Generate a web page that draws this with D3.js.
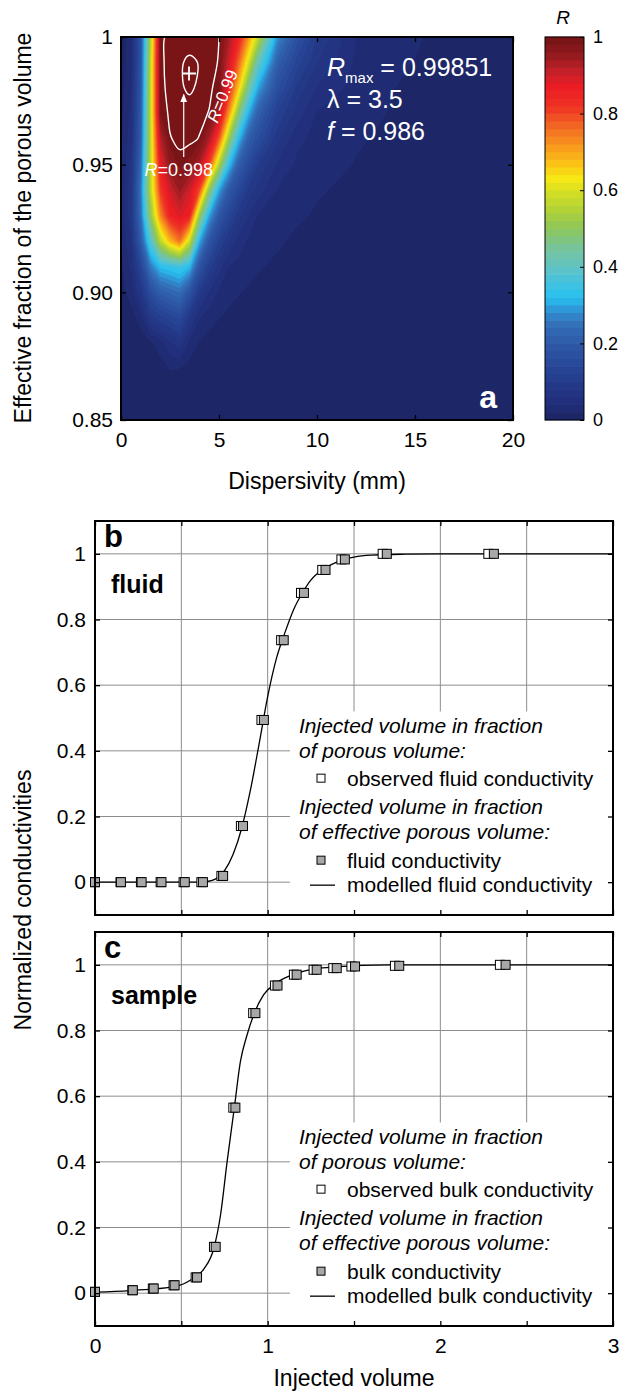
<!DOCTYPE html>
<html>
<head>
<meta charset="utf-8">
<script src="https://d3js.org/d3.v7.min.js"></script>
<style>
  body { margin: 0; background: #fff; }
  text { font-family: "Liberation Sans", Arial, sans-serif; }
</style>
</head>
<body>
<svg id="fig" width="621" height="1394"></svg>
<script>
// ---------- panel a : goodness of fit R on a dispersivity x fraction grid ----------
var dispersivity = [0, 0.5, 1, 1.5, 2, 2.5, 3, 3.5, 4, 4.5, 5, 5.5, 6, 6.5, 7, 8, 9, 10, 12, 14, 17, 20];
var fraction = [0.85, 0.86, 0.87, 0.88, 0.89, 0.90, 0.91, 0.92, 0.93, 0.94, 0.95, 0.96, 0.97, 0.98, 0.99, 1.00];
// one row per fraction (bottom to top), one value per dispersivity
var rValues = [
  [0, 0, 0, 0.001, 0.002, 0.003, 0.003, 0.002, 0.001, 0, 0, 0, 0, 0, 0, 0, 0, 0, 0, 0, 0, 0],
  [0, 0, 0.001, 0.002, 0.004, 0.007, 0.007, 0.004, 0.002, 0.001, 0.001, 0, 0, 0, 0, 0, 0, 0, 0, 0, 0, 0],
  [0, 0.001, 0.003, 0.006, 0.012, 0.021, 0.02, 0.012, 0.006, 0.003, 0.002, 0.001, 0.001, 0.001, 0, 0, 0, 0, 0, 0, 0, 0],
  [0.001, 0.003, 0.008, 0.016, 0.03, 0.055, 0.075, 0.035, 0.018, 0.01, 0.006, 0.004, 0.003, 0.002, 0.002, 0.001, 0.001, 0, 0, 0, 0, 0],
  [0.004, 0.01, 0.03, 0.089, 0.113, 0.129, 0.145, 0.087, 0.042, 0.03, 0.021, 0.014, 0.01, 0.008, 0.006, 0.004, 0.003, 0.002, 0.002, 0.001, 0.001, 0],
  [0.012, 0.03, 0.08, 0.16, 0.207, 0.225, 0.243, 0.177, 0.097, 0.058, 0.036, 0.029, 0.0215, 0.017, 0.014, 0.01, 0.007, 0.005, 0.004, 0.003, 0.002, 0.001],
  [0.016, 0.045, 0.13, 0.26, 0.325, 0.339, 0.352, 0.32, 0.183, 0.11, 0.071, 0.04, 0.034, 0.028, 0.022, 0.016, 0.012, 0.009, 0.006, 0.005, 0.003, 0.001],
  [0.02, 0.06, 0.2, 0.38, 0.56, 0.68, 0.755, 0.58, 0.307, 0.187, 0.122, 0.081, 0.051, 0.037, 0.032, 0.023, 0.016, 0.013, 0.009, 0.007, 0.004, 0.002],
  [0.022, 0.075, 0.24, 0.5, 0.73, 0.856, 0.888, 0.856, 0.519, 0.301, 0.192, 0.132, 0.088, 0.062, 0.039, 0.031, 0.023, 0.018, 0.012, 0.009, 0.005, 0.002],
  [0.022, 0.075, 0.25, 0.56, 0.81, 0.9, 0.945, 0.9, 0.8, 0.5, 0.3, 0.195, 0.141, 0.094, 0.071, 0.038, 0.028, 0.022, 0.015, 0.011, 0.006, 0.003],
  [0.02, 0.065, 0.23, 0.565, 0.87, 0.96, 0.985, 0.975, 0.93, 0.8, 0.55, 0.33, 0.21, 0.15, 0.1, 0.056, 0.036, 0.03, 0.019, 0.014, 0.007, 0.003],
  [0.017, 0.055, 0.21, 0.565, 0.92, 0.989, 0.9935, 0.994, 0.989, 0.93, 0.78, 0.52, 0.32, 0.21, 0.16, 0.084, 0.044, 0.035, 0.022, 0.016, 0.008, 0.004],
  [0.014, 0.045, 0.2, 0.565, 0.98, 0.993, 0.995, 0.996, 0.995, 0.989, 0.93, 0.72, 0.48, 0.31, 0.215, 0.116, 0.07, 0.039, 0.027, 0.018, 0.009, 0.004],
  [0.011, 0.04, 0.19, 0.565, 0.985, 0.995, 0.9974, 0.9987, 0.9972, 0.994, 0.982, 0.85, 0.66, 0.45, 0.3, 0.164, 0.093, 0.059, 0.032, 0.02, 0.01, 0.005],
  [0.009, 0.036, 0.18, 0.562, 0.986, 0.996, 0.9975, 0.9988, 0.9978, 0.995, 0.989, 0.9, 0.77, 0.6, 0.41, 0.211, 0.13, 0.081, 0.036, 0.024, 0.011, 0.005],
  [0.007, 0.033, 0.18, 0.54, 0.985, 0.995, 0.996, 0.996, 0.995, 0.994, 0.99, 0.935, 0.857, 0.721, 0.567, 0.28, 0.171, 0.1, 0.04, 0.0275, 0.012, 0.006]
];
var lineLevels = [0.99, 0.998];
var bestLambda = [3.47];
var bestF = [0.9857];

var cmapStops = [0, 0.05, 0.1, 0.15, 0.2, 0.25, 0.28, 0.32, 0.36, 0.4, 0.45, 0.5, 0.55, 0.6, 0.63, 0.67, 0.72, 0.77, 0.82, 0.87, 0.91, 0.95, 1];
var cmapColors = ["#1c2462", "#212f7c", "#243b8b", "#294a9a", "#2e59a7", "#3371b9", "#318ad0", "#27c1ef", "#44c2df", "#62c3c2", "#77c49b", "#8cc65a", "#b2d235", "#d8e022", "#f5e814", "#fbc116", "#f7941d", "#f26424", "#ee3124", "#ec1c24", "#c4202a", "#951b1e", "#721215"];

var aTicksX = [0, 5, 10, 15, 20];
var aTicksY = [0.85, 0.9, 0.95, 1];
var aLabelsY = ["0.85", "0.90", "0.95", "1"];
var cbTicks = [0, 0.2, 0.4, 0.6, 0.8, 1];
var cbLabels = ["0", "0.2", "0.4", "0.6", "0.8", "1"];

// ---------- panels b and c : breakthrough curves ----------
var volTicks = [0, 0.5, 1, 1.5, 2, 2.5, 3];
var volLabels = ["0", "", "1", "", "2", "", "3"];
var condTicks = [0, 0.2, 0.4, 0.6, 0.8, 1];
var condLabels = ["0", "0.2", "0.4", "0.6", "0.8", "1"];

var fluidVolObs = [0, 0.148, 0.266, 0.38, 0.513, 0.616, 0.732, 0.845, 0.964, 1.078, 1.193, 1.316, 1.427, 1.666, 2.278];
var fluidVolEff = [0, 0.15, 0.27, 0.385, 0.52, 0.625, 0.742, 0.857, 0.978, 1.093, 1.21, 1.335, 1.447, 1.69, 2.31];
var fluidCond = [0, 0, 0, 0, 0, 0, 0.019, 0.171, 0.494, 0.737, 0.881, 0.951, 0.983, 1.0, 1.0];
var fluidModelVol = [0, 0.6, 0.65, 0.7, 0.75, 0.8, 0.85, 0.9, 0.95, 1.0, 1.05, 1.1, 1.15, 1.2, 1.25, 1.3, 1.4, 1.5, 1.6, 1.8, 2.0, 3.0];
var fluidModelCond = [0, 0, 0.002, 0.01, 0.035, 0.085, 0.165, 0.28, 0.42, 0.565, 0.68, 0.76, 0.83, 0.88, 0.92, 0.945, 0.975, 0.99, 0.996, 0.999, 1, 1];

var bulkVolObs = [0, 0.216, 0.335, 0.455, 0.583, 0.689, 0.801, 0.916, 1.042, 1.152, 1.266, 1.38, 1.485, 1.737, 2.345];
var bulkVolEff = [0, 0.219, 0.34, 0.461, 0.591, 0.699, 0.813, 0.929, 1.057, 1.168, 1.284, 1.4, 1.506, 1.762, 2.378];
var bulkCond = [0.004, 0.009, 0.014, 0.024, 0.048, 0.141, 0.565, 0.853, 0.937, 0.97, 0.985, 0.99, 0.995, 0.997, 1.0];
var bulkModelVol = [0, 0.2, 0.46, 0.554, 0.631, 0.688, 0.727, 0.765, 0.807, 0.842, 0.881, 0.923, 0.977, 1.05, 1.16, 1.275, 1.39, 1.7, 3.0];
var bulkModelCond = [0.003, 0.008, 0.02, 0.04, 0.074, 0.136, 0.238, 0.4, 0.565, 0.705, 0.787, 0.853, 0.909, 0.945, 0.973, 0.988, 0.994, 1, 1];

var FONT = '"Liberation Sans", Arial, sans-serif';
var svg = d3.select('#fig');
var color = d3.scaleLinear().domain(cmapStops).range(cmapColors);
var step = 0.02;

function styleAxis(g, size) {
  g.attr('font-size', size).attr('font-family', FONT);
  g.select('.domain').remove();
  g.selectAll('.tick line').attr('stroke', '#000').attr('stroke-width', 1.3);
  g.selectAll('.tick text').attr('fill', '#000');
}

// ================= panel a =================
var xA = d3.scaleLinear().domain([0, 20]).range([121, 513]);
var yA = d3.scaleLinear().domain([0.85, 1]).range([420, 37]);
var nx = dispersivity.length, ny = fraction.length;
var colToD = d3.scaleLinear().domain(d3.range(nx)).range(dispersivity).clamp(true);
var rowToF = d3.scaleLinear().domain(d3.range(ny)).range(fraction).clamp(true);
function gx(c) { return xA(colToD(c - 0.5)); }
function gy(r) { return yA(rowToF(r - 0.5)); }
var gridPath = d3.geoPath(d3.geoTransform({
  point: function(c, r) { this.stream.point(gx(c), gy(r)); }
}));
var flat = d3.merge(rValues);

var gA = svg.append('g');
svg.append('clipPath').attr('id', 'clipA').append('rect')
  .attr('x', 121).attr('y', 37).attr('width', 392).attr('height', 383);
var field = gA.append('g').attr('clip-path', 'url(#clipA)');
field.append('rect').attr('x', 121).attr('y', 37).attr('width', 392).attr('height', 383)
  .attr('fill', color(step / 2));
var bands = d3.contours().size([nx, ny]).thresholds(d3.range(step, 1, step))(flat);
field.selectAll('path.band').data(bands).enter().append('path')
  .attr('class', 'band')
  .attr('d', gridPath)
  .attr('fill', function(d) { return color(d.value + step / 2); });

// white iso-lines R = 0.99 and R = 0.998
var isoLines = d3.contours().size([nx, ny]).thresholds(lineLevels)(flat);
var ringLine = d3.line().x(function(p) { return gx(p[0]); }).y(function(p) { return gy(p[1]); })
  .curve(d3.curveCatmullRomClosed);
isoLines.forEach(function(c) {
  c.coordinates.forEach(function(poly) {
    poly.forEach(function(ring) {
      field.append('path').attr('d', ringLine(ring.slice(0, -1)))
        .attr('fill', 'none').attr('stroke', '#fff').attr('stroke-width', 1.4);
    });
  });
});

// best-fit marker
var bx = xA(bestLambda[0]), by = yA(bestF[0]);
field.append('path').attr('d', 'M' + (bx - 7) + ',' + by + 'H' + (bx + 7) + 'M' + bx + ',' + (by - 7) + 'V' + (by + 7))
  .attr('stroke', '#fff').attr('stroke-width', 1.8);

// arrow from the R=0.998 label up to its contour
svg.append('defs').append('marker').attr('id', 'arrowW')
  .attr('viewBox', '0 0 10 10').attr('refX', 9).attr('refY', 5)
  .attr('markerWidth', 7).attr('markerHeight', 7).attr('orient', 'auto')
  .append('path').attr('d', 'M0,1L10,5L0,9Z').attr('fill', '#fff');
field.append('line')
  .attr('x1', xA(3.2)).attr('y1', yA(0.953)).attr('x2', xA(3.2)).attr('y2', yA(0.9775))
  .attr('stroke', '#fff').attr('stroke-width', 1.2).attr('marker-end', 'url(#arrowW)');

var lab998 = field.append('text').attr('x', xA(1.2)).attr('y', yA(0.9455))
  .attr('fill', '#fff').attr('font-size', 18);
lab998.append('tspan').attr('font-style', 'italic').text('R');
lab998.append('tspan').text('=0.998');

var lab99 = field.append('text')
  .attr('transform', 'translate(' + xA(5.45) + ',' + yA(0.976) + ') rotate(-68)')
  .attr('text-anchor', 'middle').attr('fill', '#fff').attr('font-size', 17);
lab99.append('tspan').attr('font-style', 'italic').text('R');
lab99.append('tspan').text('=0.99');

// fit summary
var t1 = gA.append('text').attr('x', 327).attr('y', 76).attr('fill', '#fff').attr('font-size', 25);
t1.append('tspan').attr('font-style', 'italic').text('R');
t1.append('tspan').attr('font-size', 15).attr('dy', 7).text('max');
t1.append('tspan').attr('dy', -7).text(' = 0.99851');
gA.append('text').attr('x', 327).attr('y', 108).attr('fill', '#fff').attr('font-size', 25).text('\u03bb = 3.5');
var t3 = gA.append('text').attr('x', 327).attr('y', 140).attr('fill', '#fff').attr('font-size', 25);
t3.append('tspan').attr('font-style', 'italic').text('f');
t3.append('tspan').text(' = 0.986');
gA.append('text').attr('x', 497).attr('y', 408).attr('text-anchor', 'end')
  .attr('fill', '#fff').attr('font-size', 32).attr('font-weight', 'bold').text('a');

// axes of panel a
styleAxis(gA.append('g').attr('transform', 'translate(121,0)')
  .call(d3.axisLeft(yA).tickValues(aTicksY).tickFormat(function(d, i) { return aLabelsY[i]; }).tickSize(-5).tickPadding(8)), 21);
styleAxis(gA.append('g').attr('transform', 'translate(513,0)')
  .call(d3.axisRight(yA).tickValues(aTicksY).tickFormat('').tickSize(-5)), 21);
styleAxis(gA.append('g').attr('transform', 'translate(0,420)')
  .call(d3.axisBottom(xA).tickValues(aTicksX).tickSize(-5).tickPadding(12)), 21);
styleAxis(gA.append('g').attr('transform', 'translate(0,37)')
  .call(d3.axisTop(xA).tickValues(aTicksX).tickFormat('').tickSize(-5)), 21);
gA.append('rect').attr('x', 121).attr('y', 37).attr('width', 392).attr('height', 383)
  .attr('fill', 'none').attr('stroke', '#000').attr('stroke-width', 2);
gA.append('text').attr('x', 317).attr('y', 489).attr('text-anchor', 'middle')
  .attr('font-size', 23).text('Dispersivity (mm)');
gA.append('text').attr('transform', 'translate(31,228) rotate(-90)').attr('text-anchor', 'middle')
  .attr('font-size', 23).text('Effective fraction of the porous volume');

// colour bar
var yCB = d3.scaleLinear().domain([0, 1]).range([420, 37]);
var gCB = svg.append('g');
gCB.selectAll('rect.cb').data(d3.range(0, 1 - 1e-9, step)).enter().append('rect')
  .attr('class', 'cb')
  .attr('x', 545).attr('width', 39)
  .attr('y', function(d) { return yCB(d + step) - 0.3; })
  .attr('height', function(d) { return yCB(d) - yCB(d + step) + 0.6; })
  .attr('fill', function(d) { return color(d + step / 2); });
styleAxis(gCB.append('g').attr('transform', 'translate(584,0)')
  .call(d3.axisRight(yCB).tickValues(cbTicks).tickFormat(function(d, i) { return cbLabels[i]; }).tickSize(-4).tickPadding(9)), 18);
gCB.selectAll('.tick line').attr('stroke-width', 1);
gCB.append('rect').attr('x', 545).attr('y', 37).attr('width', 39).attr('height', 383)
  .attr('fill', 'none').attr('stroke', '#000').attr('stroke-width', 1);
gCB.append('text').attr('x', 563).attr('y', 24).attr('text-anchor', 'middle')
  .attr('font-size', 19).attr('font-style', 'italic').text('R');

// ================= panels b and c =================
var xV = d3.scaleLinear().domain([0, 3]).range([95, 613]);

function drawPanel(cfg) {
  var y = d3.scaleLinear().domain([-0.1, 1.1]).range([cfg.bottom, cfg.top]);
  var g = svg.append('g');
  var x0 = xV(0), x1 = xV(3), y0 = y(-0.1), y1 = y(1.1);
  var legX = 290, legY = y(0.52);

  // grid
  g.selectAll('line.vg').data(volTicks.slice(1, -1)).enter().append('line')
    .attr('x1', xV).attr('x2', xV).attr('y1', y1).attr('y2', y0)
    .attr('stroke', '#8c8c8c').attr('stroke-width', 1);
  g.selectAll('line.hg').data(condTicks).enter().append('line')
    .attr('x1', x0).attr('x2', x1).attr('y1', y).attr('y2', y)
    .attr('stroke', '#8c8c8c').attr('stroke-width', 1);
  g.append('rect').attr('x', legX).attr('y', legY).attr('width', x1 - legX).attr('height', y0 - legY)
    .attr('fill', '#fff');

  // model curve
  g.append('path').datum(d3.zip(cfg.modelVol, cfg.modelCond))
    .attr('d', d3.line().x(function(d) { return xV(d[0]); }).y(function(d) { return y(d[1]); }).curve(d3.curveMonotoneX))
    .attr('fill', 'none').attr('stroke', '#000').attr('stroke-width', 1.3);

  // observed (porous volume) then effective porous volume squares
  g.selectAll('rect.obs').data(d3.zip(cfg.volObs, cfg.cond)).enter().append('rect')
    .attr('x', function(d) { return xV(d[0]) - 4.5; }).attr('y', function(d) { return y(d[1]) - 4.5; })
    .attr('width', 9).attr('height', 9).attr('fill', '#fff').attr('stroke', '#000').attr('stroke-width', 1);
  g.selectAll('rect.eff').data(d3.zip(cfg.volEff, cfg.cond)).enter().append('rect')
    .attr('x', function(d) { return xV(d[0]) - 4.5; }).attr('y', function(d) { return y(d[1]) - 4.5; })
    .attr('width', 9).attr('height', 9).attr('fill', '#a8a8a8').attr('stroke', '#000').attr('stroke-width', 1);

  // axes
  styleAxis(g.append('g').attr('transform', 'translate(' + x0 + ',0)')
    .call(d3.axisLeft(y).tickValues(condTicks).tickFormat(function(d, i) { return condLabels[i]; }).tickSize(-5).tickPadding(9)), 21);
  styleAxis(g.append('g').attr('transform', 'translate(' + x1 + ',0)')
    .call(d3.axisRight(y).tickValues(condTicks).tickFormat('').tickSize(-5)), 21);
  styleAxis(g.append('g').attr('transform', 'translate(0,' + y0 + ')')
    .call(d3.axisBottom(xV).tickValues(volTicks).tickFormat(function(d, i) { return cfg.xLabels ? volLabels[i] : ''; }).tickSize(-5).tickPadding(12)), 21);
  styleAxis(g.append('g').attr('transform', 'translate(0,' + y1 + ')')
    .call(d3.axisTop(xV).tickValues(volTicks).tickFormat('').tickSize(-5)), 21);
  g.append('rect').attr('x', x0).attr('y', y1).attr('width', x1 - x0).attr('height', y0 - y1)
    .attr('fill', 'none').attr('stroke', '#000').attr('stroke-width', 2);

  g.append('text').attr('x', 104).attr('y', y1 + 26).attr('font-size', 31).attr('font-weight', 'bold').text(cfg.letter);
  g.append('text').attr('x', 111).attr('y', y(0.88)).attr('font-size', 25).attr('font-weight', 'bold').text(cfg.name);

  // legend
  var ly = y(0);
  var rows = [
    { t: 'Injected volume in fraction', dy: -149, it: true },
    { t: 'of porous volume:', dy: -124, it: true },
    { t: cfg.obsLabel, dy: -96, mark: 'obs' },
    { t: 'Injected volume in fraction', dy: -68, it: true },
    { t: 'of effective porous volume:', dy: -43, it: true },
    { t: cfg.effLabel, dy: -14, mark: 'eff' },
    { t: cfg.modelLabel, dy: 10, mark: 'line' }
  ];
  rows.forEach(function(r) {
    var by = ly + r.dy;
    g.append('text').attr('x', r.it ? 299 : 347).attr('y', by)
      .attr('font-size', 21).attr('font-style', r.it ? 'italic' : 'normal').text(r.t);
    if (r.mark === 'obs' || r.mark === 'eff') {
      g.append('rect').attr('x', 317).attr('y', by - 12).attr('width', 8).attr('height', 8)
        .attr('fill', r.mark === 'obs' ? '#fff' : '#a8a8a8').attr('stroke', '#000').attr('stroke-width', 1);
    } else if (r.mark === 'line') {
      g.append('line').attr('x1', 310).attr('x2', 335).attr('y1', by - 7).attr('y2', by - 7)
        .attr('stroke', '#000').attr('stroke-width', 1.3);
    }
  });
  return y;
}

drawPanel({
  top: 521, bottom: 915, letter: 'b', name: 'fluid', xLabels: false,
  volObs: fluidVolObs, volEff: fluidVolEff, cond: fluidCond,
  modelVol: fluidModelVol, modelCond: fluidModelCond,
  obsLabel: 'observed fluid conductivity', effLabel: 'fluid conductivity', modelLabel: 'modelled fluid conductivity'
});
drawPanel({
  top: 932, bottom: 1326, letter: 'c', name: 'sample', xLabels: true,
  volObs: bulkVolObs, volEff: bulkVolEff, cond: bulkCond,
  modelVol: bulkModelVol, modelCond: bulkModelCond,
  obsLabel: 'observed bulk conductivity', effLabel: 'bulk conductivity', modelLabel: 'modelled bulk conductivity'
});

svg.append('text').attr('x', 354).attr('y', 1386).attr('text-anchor', 'middle')
  .attr('font-size', 23).text('Injected volume');
svg.append('text').attr('transform', 'translate(31,900) rotate(-90)').attr('text-anchor', 'middle')
  .attr('font-size', 23).text('Normalized conductivities');
</script>
</body>
</html>
